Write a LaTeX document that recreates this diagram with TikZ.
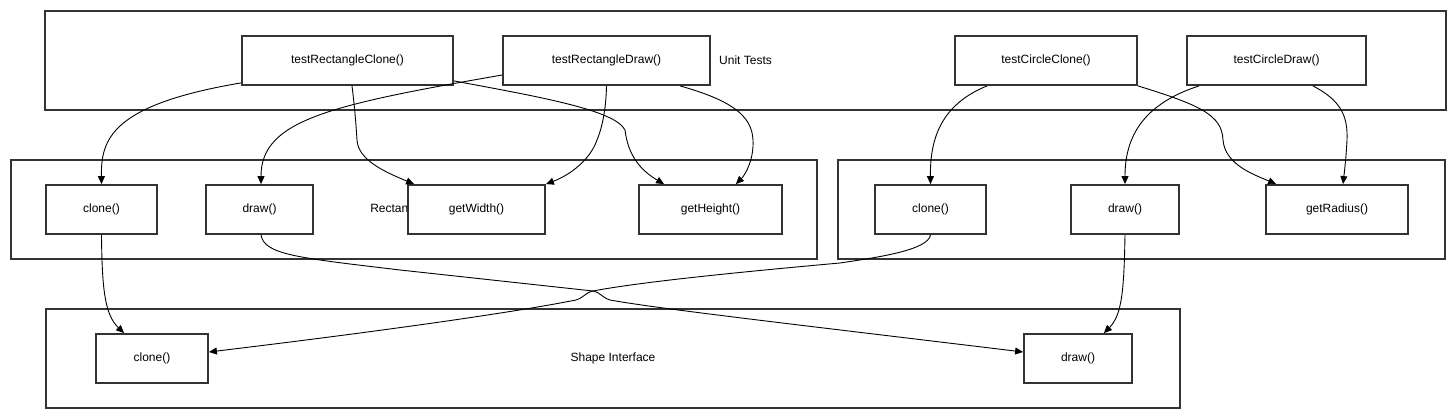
\documentclass[tikz,border=0pt]{standalone}
\usepackage{fontspec}
\setmainfont{Liberation Sans}
\usetikzlibrary{arrows.meta,calc}
\definecolor{bordergray}{HTML}{333333}
\begin{document}
\begin{tikzpicture}[x=1pt,y=-1pt,
  container/.style={draw=bordergray, line width=1.8pt, minimum height=99pt, inner sep=0pt},
  method/.style={draw=bordergray, line width=1.8pt, fill=white, minimum height=49pt, inner sep=0pt, font=\fontsize{12}{14}\selectfont},
  grouplabel/.style={font=\fontsize{12}{14}\selectfont, inner sep=0pt},
  conn/.style={draw=black, line width=0.9pt, -{Triangle[length=8pt,width=7pt]}}]
\useasboundingbox[fill=white] (0,0) rectangle (1456,419);

% containers
\node[container, minimum width=1401pt] (ut) at (745.5,60.5) {};
\node[container, minimum width=806pt] (rc) at (414,209.5) {};
\node[container, minimum width=607pt] (cc) at (1141.5,209.5) {};
\node[container, minimum width=1134pt] (si) at (613,358.5) {};
\node[grouplabel] (utl) at (ut.center) {Unit Tests};
\node[grouplabel] (rcl) at (rc.center) {Rectangle Class};
\node[grouplabel] (sil) at (si.center) {Shape Interface};

% unit tests
\node[method, minimum width=211pt] (trc) at (347.5,60.5) {testRectangleClone()};
\node[method, minimum width=207pt] (trd) at (606.5,60.5) {testRectangleDraw()};
\node[method, minimum width=182pt] (tcc) at (1046,60.5) {testCircleClone()};
\node[method, minimum width=179pt] (tcd) at (1276.5,60.5) {testCircleDraw()};

% rectangle class
\node[method, minimum width=111pt] (rclone) at (101.5,209.5) {clone()};
\node[method, minimum width=107pt] (rdraw) at (259.5,209.5) {draw()};
\node[method, minimum width=137pt] (rwidth) at (476.5,209.5) {getWidth()};
\node[method, minimum width=143pt] (rheight) at (710.5,209.5) {getHeight()};

% circle class
\node[method, minimum width=111pt] (cclone) at (930.5,209.5) {clone()};
\node[method, minimum width=108pt] (cdraw) at (1125,209.5) {draw()};
\node[method, minimum width=142pt] (cradius) at (1337,209.5) {getRadius()};

% shape interface
\node[method, minimum width=112pt] (sclone) at (152,358.5) {clone()};
\node[method, minimum width=108pt] (sdraw) at (1078,358.5) {draw()};

\coordinate (hop) at (593,291);

% connectors
\draw[conn] ($(trc.south west)+(0,-3)$) .. controls (110,105) and (101,140) .. (rclone.north);
\draw[conn] ($(trc.south)+(4.5,0)$) .. controls (355,110) and (356,125) .. (357,140)
  .. controls (358,160) and (385,172) .. ($(rwidth.north west)+(7,0)$);
\draw[conn] ($(trc.south east)+(0,-5)$) .. controls (540,97) and (615,110) .. (625,130)
  .. controls (628,155) and (640,170) .. ($(rheight.north west)+(26,0)$);
\draw[conn] ($(trd.west)+(0,14.5)$) .. controls (330,105) and (261,120) .. ($(rdraw.north)+(1.5,0)$);
\draw[conn] (trd.south) .. controls (606,110) and (602,128) .. (597,140)
  .. controls (590,160) and (570,175) .. (rwidth.north east);
\draw[conn] ($(trd.south)+(73.5,0)$) .. controls (730,100) and (752,115) .. (753,140)
  .. controls (754,160) and (745,175) .. ($(rheight.north east)+(-47,0)$);
\draw[conn] ($(tcc.south west)+(33,0)$) .. controls (940,105) and (930,140) .. (cclone.north);
\draw[conn] (tcc.south east) .. controls (1200,105) and (1222,115) .. (1223,140)
  .. controls (1225,165) and (1255,175) .. ($(cradius.north west)+(11,0)$);
\draw[conn] ($(tcd.south west)+(13,0)$) .. controls (1140,105) and (1125,140) .. (cdraw.north);
\draw[conn] ($(tcd.south east)+(-54,0)$) .. controls (1340,100) and (1348,115) .. (1347,140)
  .. controls (1346,160) and (1344,175) .. ($(cradius.north)+(6,0)$);
\draw[conn] (rclone.south) .. controls (102,290) and (105,315) .. ($(sclone.north west)+(29,0)$);
\draw[conn] ($(rdraw.south)+(1.5,0)$) .. controls (264,255) and (300,258) .. (400,270) -- (hop)
  .. controls (600,292) and (601,297) .. (610,300)
  .. controls (660,309) and (800,325) .. ($(sdraw.west)+(0,-6.5)$);
\draw[conn] (cclone.south) .. controls (928,250) and (880,257) .. (840,263)
  .. controls (740,272) and (640,282) .. (hop)
  .. controls (586,292) and (585,297) .. (576,300)
  .. controls (500,315) and (350,335) .. ($(sclone.east)+(0,-6.5)$);
\draw[conn] (cdraw.south) .. controls (1124,290) and (1122,315) .. ($(sdraw.north east)+(-29,0)$);
\end{tikzpicture}
\end{document}
